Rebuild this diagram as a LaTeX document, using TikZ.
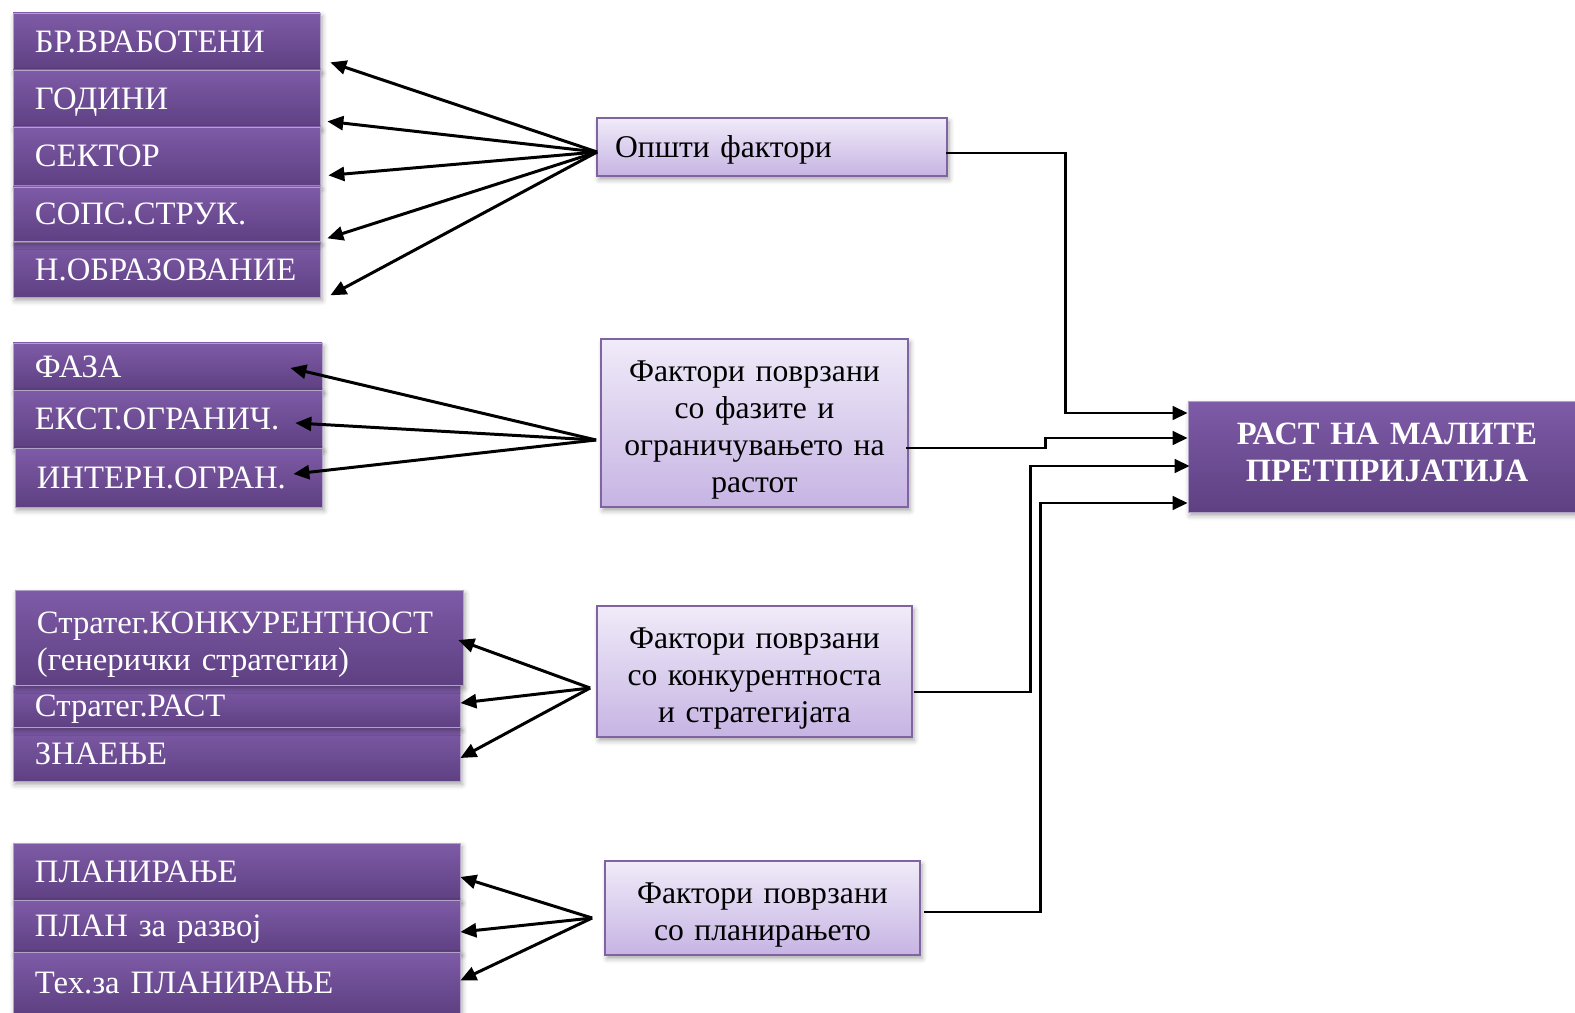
\documentclass[tikz,border=0pt]{standalone}
\usepackage{fontspec}
\setmainfont{Liberation Serif}
\usetikzlibrary{arrows.meta,shadows.blur}

\definecolor{purpTop}{RGB}{126,91,167}
\definecolor{purpBot}{RGB}{94,64,130}
\definecolor{purpEdge}{RGB}{128,100,162}
\definecolor{lavTop}{RGB}{240,235,249}
\definecolor{lavBot}{RGB}{198,180,227}

\tikzset{
  boxshadow/.style={blur shadow={shadow xshift=0.04cm, shadow yshift=-0.07cm,
      shadow blur radius=0.1cm, shadow opacity=35}},
  itembox/.style={rectangle, top color=purpTop, bottom color=purpBot,
      draw=purpEdge!60!white, line width=0.4pt, text=white, align=left,
      inner xsep=0.44cm, inner ysep=0pt,
      font=\fontsize{18.6}{21}\selectfont, boxshadow},
  factorbox/.style={rectangle, top color=lavTop, bottom color=lavBot,
      draw=purpEdge, line width=1pt, text=black, align=center,
      inner xsep=0.1cm, inner ysep=0pt,
      font=\fontsize{18}{21}\selectfont, boxshadow},
  goalbox/.style={rectangle, top color=purpTop, bottom color=purpBot,
      draw=purpEdge!60!white, line width=0.4pt, text=white, align=center,
      inner xsep=0.1cm, inner ysep=0pt,
      font=\fontsize{18.5}{21}\selectfont\bfseries, boxshadow},
  spoke/.style={line width=1.7pt, -{Triangle[length=0.32cm,width=0.28cm]}},
  feed/.style={line width=1.6pt, -{Triangle[length=0.3cm,width=0.27cm]}},
}

% vertical trim of multi-line text blocks
\def\bxadj{-4pt}

% box spanning (x1,y1)-(x2,y2), text block centred on its capitals:
% name, style, x1, y1, x2, y2, number of lines, text
\newcommand\boxspan[8]{%
  \pgfmathsetlengthmacro\bxw{(#5-#3)*0.02cm}%
  \pgfmathsetlengthmacro\bxh{(#6-#4)*0.02cm}%
  \pgfmathsetlengthmacro\bxd{(#7-1)*21pt+0.5pt+min(#7-1,1)*\bxadj}%
  \node[#2, minimum width=\bxw, minimum height=\bxh,
        text height=12.5pt, text depth=\bxd] (#1)
    at ({(#3+#5)/2},{(#4+#6)/2}) {#8};}
\newcommand\itemspan[7]{%
  \pgfmathsetlengthmacro\bxtw{(#4-#2)*0.02cm-0.88cm}%
  \boxspan{#1}{itembox, text width=\bxtw}{#2}{#3}{#4}{#5}{#6}{#7}}
\newcommand\factorspan[7]{%
  \pgfmathsetlengthmacro\bxtw{(#4-#2)*0.02cm-0.2cm}%
  \boxspan{#1}{factorbox, text width=\bxtw}{#2}{#3}{#4}{#5}{#6}{#7}}
\newcommand\goalspan[7]{%
  \begingroup\def\bxadj{5pt}%
  \pgfmathsetlengthmacro\bxtw{(#4-#2)*0.02cm-0.2cm}%
  \boxspan{#1}{goalbox, text width=\bxtw}{#2}{#3}{#4}{#5}{#6}{#7}%
  \endgroup}

\begin{document}
\begin{tikzpicture}[x=0.02cm, y=-0.02cm]
\useasboundingbox (0,0) rectangle (1575,1013);

% general factors
\itemspan{b1}{13}{13}{320}{70}{1}{БР.ВРАБОТЕНИ}
\itemspan{b2}{13}{70}{320}{127}{1}{ГОДИНИ}
\itemspan{b3}{13}{127}{320}{185}{1}{СЕКТОР}
\itemspan{b5}{13}{242}{320}{297}{1}{Н.ОБРАЗОВАНИЕ}
\itemspan{b4}{13}{187}{320}{241}{1}{СОПС.СТРУК.}

% phases and constraints
\itemspan{c1}{13}{343}{322}{390}{1}{ФАЗА}
\itemspan{c2}{13}{390}{322}{448}{1}{ЕКСТ.ОГРАНИЧ.}
\itemspan{c3}{15}{448}{322}{507}{1}{ИНТЕРН.ОГРАН.}

% competitiveness and strategy
\itemspan{d3}{13}{727}{460}{781}{1}{ЗНАЕЊЕ}
\itemspan{d2}{13}{685}{460}{727}{1}{Стратег.РАСТ}
\itemspan{d1}{15}{590}{463}{685}{2}{Стратег.КОНКУРЕНТНОСТ\\(генерички стратегии)}

% planning
\itemspan{e1}{13}{843}{460}{900}{1}{ПЛАНИРАЊЕ}
\itemspan{e2}{13}{900}{460}{952}{1}{ПЛАН за развој}
\itemspan{e3}{13}{952}{460}{1013}{1}{Тех.за ПЛАНИРАЊЕ}

% factor groups
\factorspan{g1}{597}{118}{947}{176}{1}{\hspace*{0.26cm}Општи фактори\hfill\null}
\factorspan{g2}{601}{339}{908}{507}{4}{Фактори поврзани\\со фазите и\\ограничувањето на\\растот}
\factorspan{g3}{597}{606}{912}{737}{3}{Фактори поврзани\\со конкурентноста\\и стратегијата}
\factorspan{g4}{605}{861}{920}{955}{2}{Фактори поврзани\\со планирањето}

% outcome
\goalspan{r}{1188}{401}{1586}{512}{2}{РАСТ НА МАЛИТЕ\\ПРЕТПРИЈАТИЈА}

% spokes to the individual factors
\draw[spoke] ([shift={(1,5)}]g1.west) -- ([shift={(10,-8)}]b1.south east);
\draw[spoke] ([shift={(1,5)}]g1.west) -- ([shift={(7,-6)}]b2.south east);
\draw[spoke] ([shift={(1,5)}]g1.west) -- ([shift={(8,-10)}]b3.south east);
\draw[spoke] ([shift={(1,5)}]g1.west) -- ([shift={(7,-3)}]b4.south east);
\draw[spoke] ([shift={(1,5)}]g1.west) -- ([shift={(10,-2)}]b5.south east);

\draw[spoke] ([shift={(-4,17)}]g2.west) -- ([shift={(-32,1.5)}]c1.east);
\draw[spoke] ([shift={(-4,17)}]g2.west) -- ([shift={(-27,4)}]c2.east);
\draw[spoke] ([shift={(-4,17)}]g2.west) -- ([shift={(-29,-3.5)}]c3.east);

\draw[spoke] ([shift={(-6,16.5)}]g3.west) -- ([shift={(-5,2.5)}]d1.east);
\draw[spoke] ([shift={(-6,16.5)}]g3.west) -- ([shift={(0,-3)}]d2.east);
\draw[spoke] ([shift={(-6,16.5)}]g3.west) -- ([shift={(0,4)}]d3.east);

\draw[spoke] ([shift={(-12,10)}]g4.west) -- ([shift={(0,5.5)}]e1.east);
\draw[spoke] ([shift={(-12,10)}]g4.west) -- ([shift={(0,6)}]e2.east);
\draw[spoke] ([shift={(-12,10)}]g4.west) -- ([shift={(0,-2)}]e3.east);

% feeds into the outcome
\draw[feed] ([shift={(-2,6)}]g1.east) -| ([shift={(-122,-43.5)}]r.west) -- ([shift={(0,-43.5)}]r.west);
\draw[feed] ([shift={(-3,25)}]g2.east) -| ([shift={(-142,-18.5)}]r.west) -- ([shift={(0,-18.5)}]r.west);
\draw[feed] ([shift={(1,20.5)}]g3.east) -| ([shift={(-157,9.5)}]r.west) -- ([shift={(2,9.5)}]r.west);
\draw[feed] ([shift={(3,4)}]g4.east) -| ([shift={(-147,46.5)}]r.west) -- ([shift={(0,46.5)}]r.west);
\end{tikzpicture}
\end{document}
